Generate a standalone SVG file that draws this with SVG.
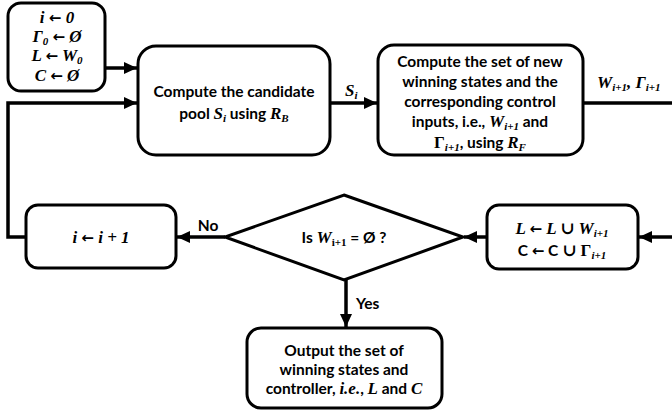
<svg xmlns="http://www.w3.org/2000/svg" width="672" height="414" viewBox="0 0 672 414">
<style>
.box{fill:#fff;stroke:#000;stroke-width:3}
.ln{fill:none;stroke:#000;stroke-width:3.5}
.t{font-family:Lato,"Open Sans","Liberation Sans",sans-serif;font-weight:bold;font-size:15.5px;text-anchor:middle;fill:#000}
.m{font-family:"Liberation Serif","DejaVu Serif",serif;font-style:italic;font-weight:bold;font-size:17px}
.u{font-family:"Liberation Serif","DejaVu Serif",serif;font-style:normal;font-weight:bold;font-size:17px}
.ar{font-family:"DejaVu Sans",sans-serif;font-style:normal;font-weight:bold;font-size:15px}
.s{font-size:11px}
</style>
<defs>
<marker id="ah" markerUnits="userSpaceOnUse" markerWidth="14" markerHeight="12" refX="13" refY="6" orient="auto">
<path d="M0,0 L13,6 L0,12 z" fill="#000"/>
</marker>
</defs>
<g id="connectors">
<path class="ln" d="M105,68 H137" marker-end="url(#ah)"/>
<path class="ln" d="M26,237 H8 V103 H137" marker-end="url(#ah)"/>
<path class="ln" d="M330,103 H377" marker-end="url(#ah)"/>
<path class="ln" d="M583,103 H672"/>
<path class="ln" d="M672,237 H639" marker-end="url(#ah)"/>
<path class="ln" d="M487,237 H464" marker-end="url(#ah)"/>
<path class="ln" d="M225,237 H177" marker-end="url(#ah)"/>
<path class="ln" d="M346,280 V327" marker-end="url(#ah)"/>
<text class="t m" x="345" y="96" style="text-anchor:start">S<tspan class="s" dy="2.5">i</tspan></text>
<text class="t m" x="597" y="88" style="text-anchor:start">W<tspan class="s" dy="2.5">i+1</tspan><tspan dy="-2.5">, Γ</tspan><tspan class="s" dy="2.5">i+1</tspan></text>
<text class="t" x="208" y="231">No</text>
<text class="t" x="356" y="309" style="text-anchor:start">Yes</text>
</g>
<g id="init">
<rect class="box" x="8" y="3" width="97" height="88" rx="13"/>
<text class="t m" x="57" y="23">i <tspan class="ar">←</tspan> 0</text>
<text class="t m" x="57" y="42">Γ<tspan class="s" dy="2.5">0</tspan><tspan dy="-2.5"> </tspan><tspan class="ar">←</tspan> Ø</text>
<text class="t m" x="57" y="61">L <tspan class="ar">←</tspan> W<tspan class="s" dy="2.5">0</tspan></text>
<text class="t m" x="57" y="81">C <tspan class="ar">←</tspan> Ø</text>
</g>
<g id="candidate">
<rect class="box" x="138" y="46" width="192" height="109" rx="18"/>
<text class="t" x="234" y="97">Compute the candidate</text>
<text class="t" x="234" y="119">pool <tspan class="m">S</tspan><tspan class="m s" dy="2.5">i</tspan><tspan dy="-2.5"> using </tspan><tspan class="m">R</tspan><tspan class="m s" dy="2.5">B</tspan></text>
</g>
<g id="winning">
<rect class="box" x="378" y="45" width="205" height="110" rx="16"/>
<text class="t" x="480" y="67">Compute the set of new</text>
<text class="t" x="480" y="87">winning states and the</text>
<text class="t" x="480" y="107">corresponding control</text>
<text class="t" x="480" y="127">inputs, i.e., <tspan class="m">W</tspan><tspan class="m s" dy="2.5">i+1</tspan><tspan dy="-2.5"> and</tspan></text>
<text class="t" x="480" y="148"><tspan class="u">Γ</tspan><tspan class="m s" dy="2.5">i+1</tspan><tspan dy="-2.5">, using </tspan><tspan class="m">R</tspan><tspan class="m s" dy="2.5">F</tspan></text>
</g>
<g id="update">
<rect class="box" x="487" y="205" width="151" height="64" rx="12"/>
<text class="t m" x="562" y="234">L <tspan class="ar">←</tspan> L ∪ W<tspan class="s" dy="2.5">i+1</tspan></text>
<text class="t" x="562" y="256">C <tspan class="ar">←</tspan> C <tspan class="u">∪ Γ</tspan><tspan class="m s" dy="2.5">i+1</tspan></text>
</g>
<g id="decision">
<polygon class="box" points="344,195 463,237 344,280 225,237"/>
<text class="t" x="344" y="243">Is <tspan class="m">W</tspan><tspan class="u s" dy="2.5">i+1</tspan><tspan dy="-2.5"> = Ø ?</tspan></text>
</g>
<g id="increment">
<rect class="box" x="26" y="205" width="150" height="63" rx="12"/>
<text class="t m" x="101" y="243">i <tspan class="ar">←</tspan> i + 1</text>
</g>
<g id="output">
<rect class="box" x="247" y="328" width="195" height="80" rx="14"/>
<text class="t" x="344" y="356">Output the set of</text>
<text class="t" x="344" y="375">winning states and</text>
<text class="t" x="344" y="394">controller, <tspan class="m">i.e.</tspan>, <tspan class="m">L</tspan> and <tspan class="m">C</tspan></text>
</g>
</svg>
